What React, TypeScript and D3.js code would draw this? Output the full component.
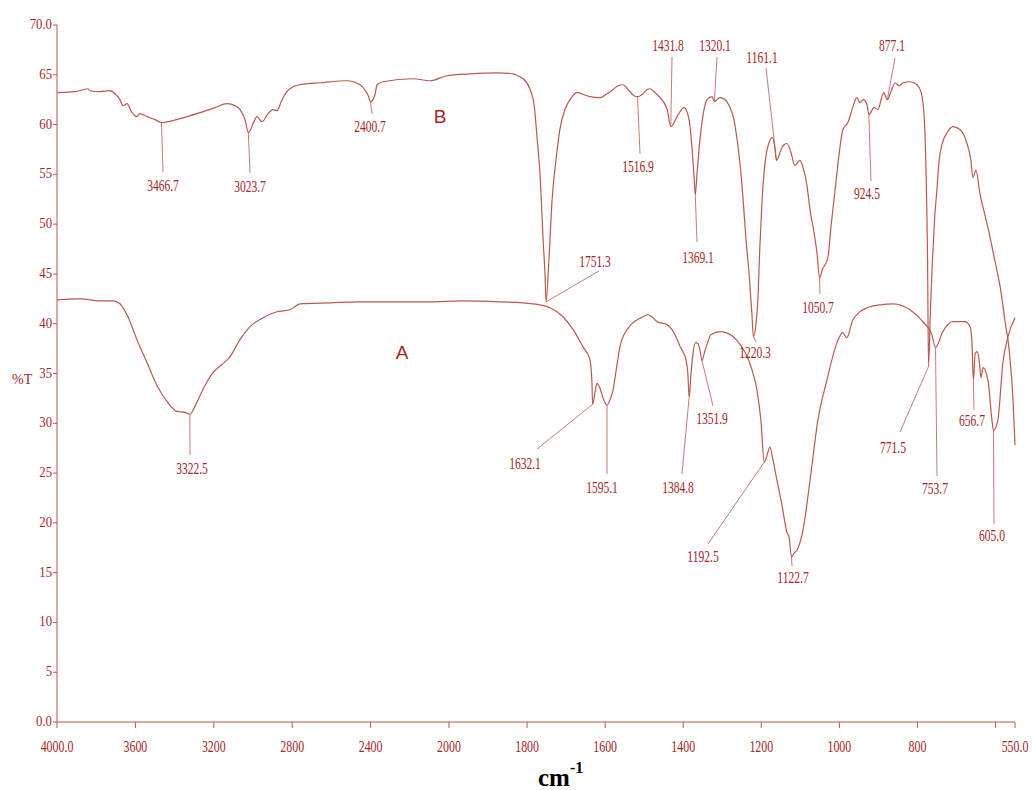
import React from "react";
import * as d3 from "d3";

// ---- Data (wavenumber cm-1, %T) ----
const seriesB_wn = [4000, 3908, 3842, 3832, 3781, 3730, 3704, 3679, 3663, 3643, 3617, 3592, 3577, 3541, 3500, 3466.7, 3372, 3270, 3194, 3133, 3092, 3066, 3041, 3023.7, 2995, 2980, 2954, 2923, 2898, 2878, 2852, 2827, 2796, 2760, 2658, 2520, 2454, 2423, 2412, 2400.7, 2378, 2367, 2337, 2184, 2097, 2010, 1946, 1877, 1836, 1818, 1810, 1792, 1782, 1774, 1766, 1759, 1754, 1751.3, 1744, 1736, 1726, 1716, 1703, 1690, 1672, 1654, 1639, 1613, 1595, 1580, 1567, 1554, 1541, 1526, 1516.9, 1506, 1493, 1485, 1472, 1459, 1441, 1431.8, 1413, 1398, 1388, 1383, 1377, 1372, 1369.1, 1365, 1357, 1349, 1339, 1326, 1320.1, 1306, 1293, 1280, 1270, 1262, 1254, 1247, 1239, 1231, 1224, 1220.3, 1213, 1208, 1204, 1198, 1192, 1186, 1180, 1172, 1166, 1161.1, 1150, 1144, 1134, 1124, 1114, 1101, 1093, 1083, 1075, 1065, 1057, 1050.7, 1043, 1037, 1029, 1021, 1011, 1001, 991, 978, 965, 955, 947, 939, 929, 924.5, 911, 901, 891, 886, 877.1, 866, 857, 847, 837, 819, 801, 791, 783, 778, 774, 771.5, 767, 762, 756, 750, 744, 737, 724, 709, 691, 673, 663, 658, 650, 640, 627, 614, 601, 588, 575, 565, 555, 550];
const seriesB_T = [63.2, 63.3, 63.6, 63.4, 63.3, 63.4, 63.1, 62.5, 61.9, 62.1, 61.2, 60.8, 61.1, 60.8, 60.5, 60.2, 60.6, 61.2, 61.7, 62.1, 61.9, 61.5, 60.5, 59.2, 60.3, 60.8, 60.3, 61.1, 61.5, 61.4, 62.5, 63.3, 63.8, 64.0, 64.2, 64.4, 64.0, 63.3, 62.9, 62.3, 63.0, 64.0, 64.3, 64.6, 64.4, 64.9, 65.1, 65.2, 65.1, 64.8, 64.6, 63.5, 62.0, 58.5, 54.5, 48.5, 44.9, 42.2, 46.4, 52.4, 56.4, 59.5, 61.5, 62.5, 63.2, 63.0, 62.8, 62.7, 63.1, 63.5, 63.9, 64.0, 63.5, 62.9, 62.8, 63.0, 63.5, 63.6, 63.2, 62.7, 61.5, 59.8, 61.0, 61.7, 61.0, 60.0, 57.4, 54.6, 52.9, 54.9, 58.5, 61.0, 62.5, 62.8, 62.3, 62.7, 62.5, 61.7, 60.5, 58.5, 55.9, 52.7, 48.4, 44.9, 41.0, 38.7, 40.2, 43.0, 47.4, 52.4, 55.5, 57.3, 58.2, 58.7, 57.9, 56.4, 57.4, 57.9, 58.1, 57.2, 55.9, 56.4, 55.7, 53.9, 51.4, 49.2, 47.0, 44.6, 45.5, 45.9, 46.7, 49.9, 53.4, 56.9, 59.5, 60.2, 61.8, 62.7, 62.2, 62.5, 62.0, 61.0, 61.7, 61.5, 62.8, 63.2, 62.5, 63.5, 64.2, 63.9, 64.2, 64.3, 64.0, 63.3, 61.0, 55.4, 46.4, 35.7, 41.0, 46.0, 50.5, 53.5, 56.5, 58.0, 59.2, 59.8, 59.5, 58.1, 56.4, 54.7, 55.4, 53.1, 50.9, 48.7, 46.2, 43.7, 40.1, 37.4, 32.3, 27.8];

const seriesA_wn = [4000, 3883, 3781, 3714, 3679, 3643, 3592, 3541, 3490, 3439, 3388, 3347, 3322.5, 3296, 3270, 3245, 3204, 3158, 3117, 3066, 3015, 2949, 2878, 2811, 2760, 2607, 2454, 2250, 2097, 1972, 1869, 1785, 1741, 1708, 1682, 1657, 1639, 1634, 1632.1, 1626, 1621, 1613, 1605, 1595.1, 1588, 1580, 1570, 1562, 1544, 1518, 1503, 1490, 1480, 1467, 1441, 1421, 1408, 1393, 1388, 1384.8, 1380, 1375, 1368, 1362, 1357, 1351.9, 1345, 1339, 1329, 1306, 1272, 1254, 1236, 1224, 1211, 1201, 1192.5, 1185, 1178, 1170, 1160, 1147, 1134, 1129, 1122.7, 1115, 1108, 1093, 1075, 1055, 1032, 1006, 991, 981, 965, 929, 896, 862, 819, 786, 763, 753.7, 735, 709, 678, 665, 660, 656.7, 652, 647, 642, 637, 632, 619, 609, 605.0, 594, 581, 568, 550];
const seriesA_T = [42.4, 42.5, 42.3, 42.3, 42.0, 40.9, 38.4, 36.1, 33.8, 32.2, 31.2, 31.1, 30.9, 31.7, 32.8, 33.8, 35.1, 35.9, 36.7, 38.4, 39.7, 40.6, 41.2, 41.4, 42.0, 42.1, 42.2, 42.2, 42.2, 42.3, 42.2, 42.0, 41.6, 40.7, 39.4, 37.7, 36.4, 34.3, 31.9, 33.1, 34.0, 33.5, 32.5, 31.8, 32.3, 33.3, 35.8, 37.7, 39.4, 40.4, 40.7, 40.9, 40.7, 40.2, 39.9, 38.9, 37.7, 36.4, 34.9, 32.6, 35.0, 37.0, 38.1, 38.0, 37.3, 36.3, 37.2, 37.9, 38.9, 39.2, 38.7, 37.9, 36.7, 35.4, 33.3, 30.3, 26.1, 26.8, 27.6, 26.3, 24.3, 21.8, 19.0, 18.6, 16.6, 17.0, 17.3, 19.3, 24.3, 30.3, 34.3, 38.1, 39.1, 38.6, 40.4, 41.6, 41.9, 42.0, 41.4, 40.2, 38.9, 37.6, 39.2, 40.2, 40.2, 39.7, 37.9, 34.3, 37.0, 37.2, 36.4, 34.6, 35.6, 34.3, 30.3, 29.3, 30.3, 36.1, 38.7, 40.6];

const xTickValues = [4000, 3600, 3200, 2800, 2400, 2000, 1800, 1600, 1400, 1200, 1000, 800, 600, 550];
const xTickLabels = ["4000.0", "3600", "3200", "2800", "2400", "2000", "1800", "1600", "1400", "1200", "1000", "800", "", "550.0"];
const yTickValues = [0, 5, 10, 15, 20, 25, 30, 35, 40, 45, 50, 55, 60, 65, 70];
const yTickLabels = ["0.0", "5", "10", "15", "20", "25", "30", "35", "40", "45", "50", "55", "60", "65", "70.0"];

// Peak annotations: series, wavenumber, text
const peaksB = ["3466.7", "3023.7", "2400.7", "1751.3", "1516.9", "1431.8", "1369.1", "1320.1", "1220.3", "1161.1", "1050.7", "924.5", "877.1", "771.5"];
const peaksA = ["3322.5", "1632.1", "1595.1", "1384.8", "1351.9", "1192.5", "1122.7", "753.7", "656.7", "605.0"];

// Layout of annotation labels (pixel positions: label centre, leader-line end)
const labelLayout: Record<string, [number, number, number, number]> = {
  "3466.7": [163, 185, 163, 172],
  "3023.7": [250, 186, 250, 173],
  "2400.7": [370, 126, 372, 114],
  "1751.3": [595, 261, 599, 271],
  "1516.9": [638, 166, 640, 154],
  "1431.8": [668, 45, 672, 57],
  "1369.1": [698, 257, 697, 242],
  "1320.1": [715, 45, 717, 57],
  "1220.3": [755, 352, 756, 342],
  "1161.1": [762, 57, 766, 68],
  "1050.7": [818, 307, 820, 294],
  "924.5": [867, 193, 871, 181],
  "877.1": [892, 45, 895, 58],
  "771.5": [893, 447, 900, 432],
  "3322.5": [192, 468, 190, 455],
  "1632.1": [525, 463, 537, 449],
  "1595.1": [602, 487, 607, 474],
  "1384.8": [678, 487, 682, 474],
  "1351.9": [712, 418, 713, 406],
  "1192.5": [703, 556, 708, 544],
  "1122.7": [793, 577, 792, 566],
  "753.7": [935, 488, 937, 476],
  "656.7": [972, 420, 974, 410],
  "605.0": [992, 535, 994, 524],
};

const TEXT = "#a3262b";
const LINE = "#b85a50";
const AXIS = "#b4584f";
const SERIF = "'Liberation Serif', 'Times New Roman', serif";
const SANS = "'Liberation Sans', Arial, sans-serif";

function Lbl({ x, y, text, size, sx, anchor = "middle", fill = TEXT }: any) {
  return (
    <text
      transform={`translate(${x},${y}) scale(${sx},1)`}
      textAnchor={anchor}
      fontFamily={SERIF}
      fontSize={size}
      fill={fill}
    >
      {text}
    </text>
  );
}

export default function App() {
  const W = 1032, H = 790;
  const x = d3.scaleLinear().domain([4000, 2000, 550]).range([57, 449, 1015]);
  const y = d3.scaleLinear().domain([0, 70]).range([722, 25]);

  const dataB = seriesB_wn.map((w, i) => [w, seriesB_T[i]] as [number, number]);
  const dataA = seriesA_wn.map((w, i) => [w, seriesA_T[i]] as [number, number]);
  const line = d3.line<[number, number]>().x(d => x(d[0])).y(d => y(d[1])).curve(d3.curveMonotoneX);

  const lookup = (data: [number, number][], wn: number) => {
    const p = data.find(d => Math.abs(d[0] - wn) < 0.01);
    return p ? p[1] : 0;
  };

  const annots = [
    ...peaksB.map(t => ({ t, data: dataB })),
    ...peaksA.map(t => ({ t, data: dataA })),
  ];

  return (
    <svg width={W} height={H} style={{ position: "absolute", left: 0, top: 0, background: "#fff" }}>
      <rect x={0} y={0} width={W} height={H} fill="#fff" />
      {/* axes */}
      <line x1={x(4000)} x2={x(4000)} y1={y(70)} y2={y(0)} stroke={AXIS} strokeWidth={1} />
      <line x1={x(4000)} x2={x(550)} y1={y(0)} y2={y(0)} stroke={AXIS} strokeWidth={1} />
      {yTickValues.map((v, i) => (
        <g key={"y" + v}>
          <line x1={x(4000) - 4} x2={x(4000)} y1={y(v)} y2={y(v)} stroke={AXIS} strokeWidth={1} />
          <Lbl x={52} y={y(v) + 4} text={yTickLabels[i]} size={15} sx={0.85} anchor="end" />
        </g>
      ))}
      {xTickValues.map((w, i) => (
        <g key={"x" + w}>
          <line x1={x(w)} x2={x(w)} y1={y(0)} y2={y(0) + 6} stroke={AXIS} strokeWidth={1} />
          {xTickLabels[i] && (
            <Lbl x={x(w)} y={752} text={xTickLabels[i]} size={17} sx={0.7} />
          )}
        </g>
      ))}
      <text x={12} y={384} fontFamily={SERIF} fontSize={14} fill={TEXT}>%T</text>
      <text x={538} y={786} fontFamily={SERIF} fontSize={25} fontWeight="bold" fill="#000">
        cm
        <tspan dy={-13} fontSize={16}>-1</tspan>
      </text>

      {/* spectra */}
      <path d={line(dataB) || ""} fill="none" stroke={LINE} strokeWidth={1.2} />
      <path d={line(dataA) || ""} fill="none" stroke={LINE} strokeWidth={1.2} />

      {/* series letters */}
      <text x={440} y={123} textAnchor="middle" fontFamily={SANS} fontSize={19} fill={TEXT}>B</text>
      <text x={402} y={359} textAnchor="middle" fontFamily={SANS} fontSize={19} fill={TEXT}>A</text>

      {/* peak annotations */}
      {annots.map(({ t, data }) => {
        const wn = parseFloat(t);
        const [lx, ly, ex, ey] = labelLayout[t];
        const px = x(wn), py = y(lookup(data, wn));
        return (
          <g key={t}>
            <line x1={px} y1={py} x2={ex} y2={ey} stroke={LINE} strokeWidth={0.8} />
            <Lbl x={lx} y={ly + 6} text={t} size={17} sx={0.68} />
          </g>
        );
      })}
    </svg>
  );
}
